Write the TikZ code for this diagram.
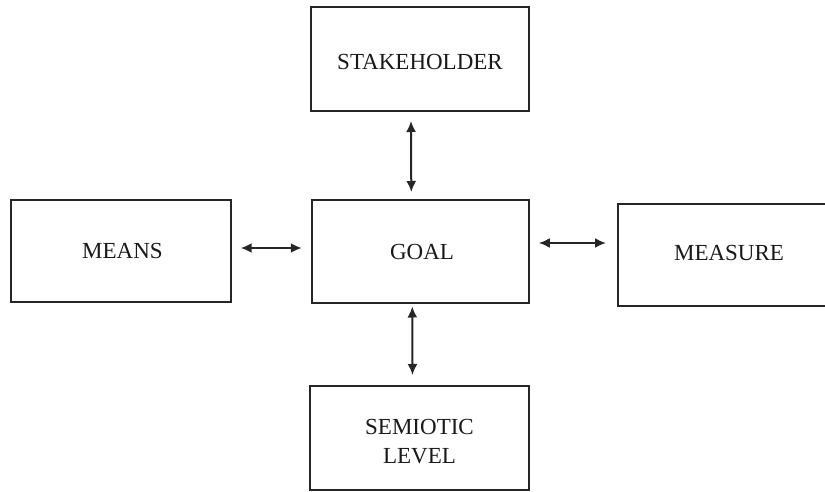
\documentclass[tikz,border=0pt]{standalone}
\usepackage{fontspec}
\setmainfont{Liberation Serif}
\usetikzlibrary{arrows.meta}
% shift a label inside its box without changing the box size
\newcommand{\nudge}[3]{\hspace*{#1}\raisebox{#2}[\height][\depth]{#3}\hspace*{-#1}}
\begin{document}
\begin{tikzpicture}[x=1pt,y=-1pt,
  box/.style={draw=black!85, line width=2pt, rectangle,
    font=\fontsize{23}{29}\selectfont, text=black!90, inner sep=0pt},
  link/.style={line width=2pt, draw=black!85,
    {Latex[length=11pt,width=10pt]}-{Latex[length=11pt,width=10pt]}}]
  \useasboundingbox (0,0) rectangle (825,492);
  \clip (0,0) rectangle (825,492);

  % boxes
  \node[box, minimum width=218pt, minimum height=104pt] (stake) at (420,59.5) {\nudge{0pt}{-2.5pt}{STAKEHOLDER}};
  \node[box, minimum width=220pt, minimum height=102pt] (means) at (120.7,250.5) {\nudge{1.8pt}{0pt}{MEANS}};
  \node[box, minimum width=217pt, minimum height=103pt] (goal) at (420.3,251) {\nudge{1.7pt}{-1pt}{GOAL}};
  \node[box, minimum width=220pt, minimum height=102pt] (measure) at (728,254.5) {\nudge{1pt}{1.5pt}{MEASURE}};
  \node[box, minimum width=219pt, minimum height=104pt] (semio) at (419.5,438) {\nudge{0pt}{-5.5pt}{\begin{tabular}{@{}c@{}}SEMIOTIC\\LEVEL\end{tabular}}};

  % two-way connectors
  \draw[link] ([xshift=-9pt,yshift=-8.5pt]stake.south) -- ([xshift=-9pt,yshift=6.5pt]goal.north);
  \draw[link] ([xshift=9pt,yshift=2.5pt]means.east) -- ([xshift=-9pt,yshift=3pt]goal.west);
  \draw[link] ([xshift=9pt,yshift=8pt]goal.east) -- ([xshift=-11pt,yshift=11.5pt]measure.west);
  \draw[link] ([xshift=-8pt,yshift=-3pt]goal.south) -- ([xshift=-7pt,yshift=10pt]semio.north);
\end{tikzpicture}
\end{document}
